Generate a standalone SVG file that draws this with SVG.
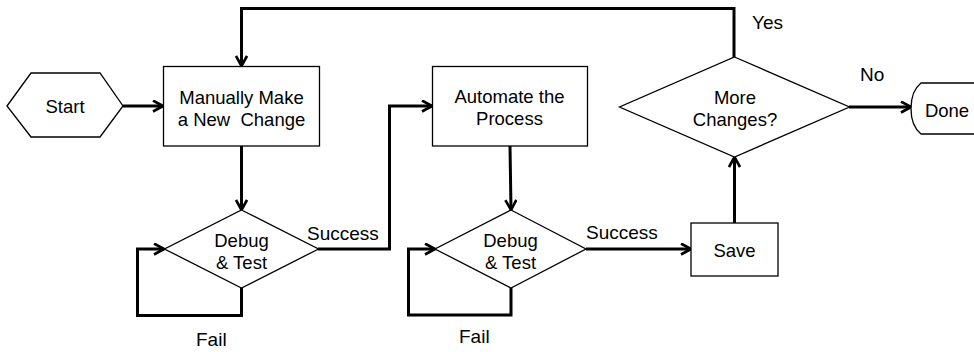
<svg xmlns="http://www.w3.org/2000/svg" width="974" height="352" viewBox="0 0 974 352">
  <defs>
    <marker id="arrow" viewBox="0 0 13 13" refX="11.5" refY="6.5" markerWidth="13" markerHeight="13" markerUnits="userSpaceOnUse" orient="auto">
      <path d="M1.5,1 L11.5,6.5 L1.5,12" fill="none" stroke="#000" stroke-width="2.6" stroke-linejoin="miter"/>
    </marker>
    <style>
      .shape { fill: #fff; stroke: #000; stroke-width: 1.3; }
      .conn { fill: none; stroke: #000; stroke-width: 3; stroke-linejoin: miter; }
      .txt { font-family: "Liberation Sans", Arial, sans-serif; font-size: 18.5px; fill: #000; text-anchor: middle; white-space: pre; }
      .lbl { font-family: "Liberation Sans", Arial, sans-serif; font-size: 19px; fill: #000; }
    </style>
  </defs>

  <!-- connectors -->
  <g id="connectors">
    <path class="conn" d="M123,106 H163" marker-end="url(#arrow)"/>
    <path class="conn" d="M734,57 V8.5 H241.5 V66" marker-end="url(#arrow)"/>
    <path class="conn" d="M241.5,146 V210" marker-end="url(#arrow)"/>
    <path class="conn" d="M241.5,288 V315.5 H137.5 V249 H164" marker-end="url(#arrow)"/>
    <path class="conn" d="M318,249 H389.5 V106 H432" marker-end="url(#arrow)"/>
    <path class="conn" d="M510,146 L511,210" marker-end="url(#arrow)"/>
    <path class="conn" d="M511,288 V315 H408.5 V249 H435" marker-end="url(#arrow)"/>
    <path class="conn" d="M586,249 H691" marker-end="url(#arrow)"/>
    <path class="conn" d="M734.5,223 V157" marker-end="url(#arrow)"/>
    <path class="conn" d="M849,107 H911" marker-end="url(#arrow)"/>
    <text class="lbl" x="752" y="29">Yes</text>
    <text class="lbl" x="860" y="81">No</text>
    <text class="lbl" x="307" y="240">Success</text>
    <text class="lbl" x="586" y="239">Success</text>
    <text class="lbl" x="196" y="346">Fail</text>
    <text class="lbl" x="459" y="343">Fail</text>
  </g>

  <g id="start">
    <polygon class="shape" points="7,106 31,73 100,73 123,106 100,137 31,137"/>
    <text class="txt" x="65" y="113">Start</text>
  </g>

  <g id="manual-change">
    <rect class="shape" x="163.5" y="66.5" width="156" height="79.5"/>
    <text class="txt" x="241.5" y="104">Manually Make</text>
    <text class="txt" x="241.5" y="126">a New  Change</text>
  </g>

  <g id="debug-test-1">
    <polygon class="shape" points="241.5,210 318.5,249 241.5,288 164.5,249"/>
    <text class="txt" x="241.5" y="247">Debug</text>
    <text class="txt" x="241.5" y="269">&amp; Test</text>
  </g>

  <g id="automate">
    <rect class="shape" x="432.5" y="66.5" width="155" height="79.5"/>
    <text class="txt" x="509.5" y="103">Automate the</text>
    <text class="txt" x="509.5" y="125">Process</text>
  </g>

  <g id="debug-test-2">
    <polygon class="shape" points="511,210 586,249 511,288 435,249"/>
    <text class="txt" x="510.5" y="247">Debug</text>
    <text class="txt" x="510.5" y="269">&amp; Test</text>
  </g>

  <g id="save">
    <rect class="shape" x="691" y="223" width="87" height="53"/>
    <text class="txt" x="734.5" y="257">Save</text>
  </g>

  <g id="more-changes">
    <polygon class="shape" points="734.5,57 849.5,107 734.5,157 619.5,107"/>
    <text class="txt" x="735" y="104">More</text>
    <text class="txt" x="735" y="126">Changes?</text>
  </g>

  <g id="done">
    <path class="shape" d="M980,83 H921 Q911,91 911,108.5 Q911,126 921,134 H980"/>
    <text class="txt" x="947" y="117">Done</text>
  </g>
</svg>
